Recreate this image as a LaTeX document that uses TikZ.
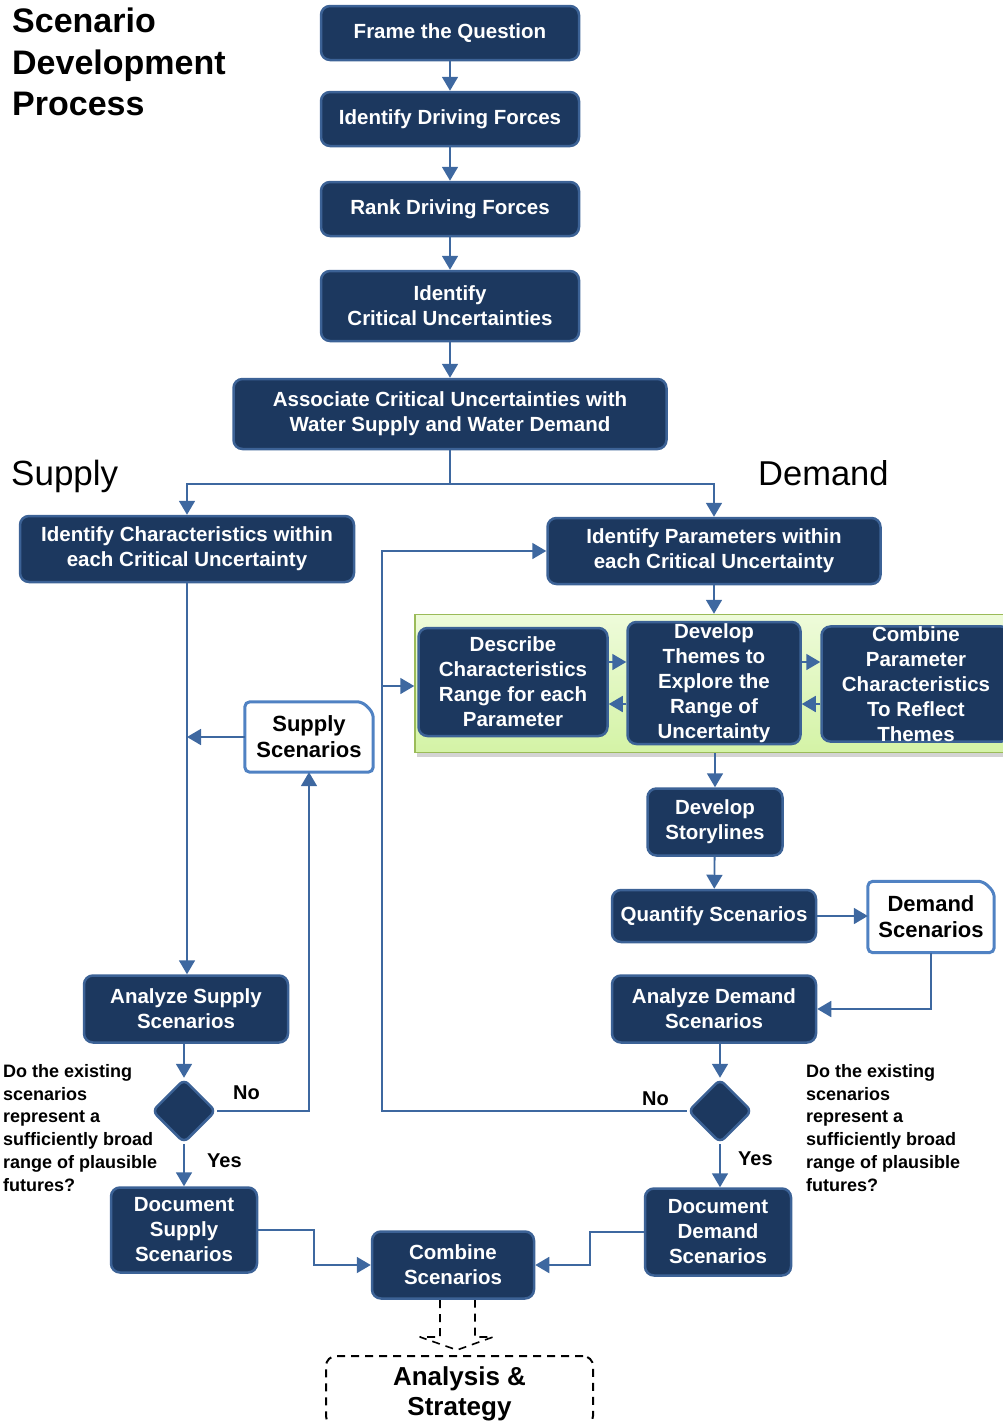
\documentclass[tikz,border=0pt]{standalone}
\usepackage{fontspec}
\setmainfont{Liberation Sans}
\usetikzlibrary{arrows.meta,shapes.geometric,shadows,calc}
\definecolor{navy}{RGB}{28,56,95}
\definecolor{bborder}{RGB}{60,98,150}
\definecolor{lineblue}{RGB}{62,104,160}
\definecolor{snipblue}{RGB}{80,130,195}
\definecolor{gtop}{RGB}{238,251,218}
\definecolor{gbot}{RGB}{212,243,166}
\definecolor{gborder}{RGB}{155,187,89}
\tikzset{
 box/.style={draw=bborder, fill=navy, line width=2.5pt, rounded corners=9pt, text=white,
   font=\bfseries\fontsize{20.5}{25}\selectfont, align=center, inner sep=0pt},
 dia/.style={diamond, shape aspect=1, minimum size=64pt, draw=bborder, fill=navy, line width=2.5pt, rounded corners=6pt, inner sep=0pt},
 arr/.style={draw=lineblue, line width=1.8pt, -{Triangle[length=14pt,width=16pt]}},
 ln/.style={draw=lineblue, line width=1.8pt},
 sniptext/.style={font=\bfseries\fontsize{22}{26}\selectfont, align=center, inner sep=0pt, fill=white},
 snipline/.style={draw=snipblue, line width=3pt, rounded corners=5pt},
 plain/.style={inner sep=0pt},
 qtext/.style={anchor=north west, inner sep=0pt, align=left, font=\bfseries\fontsize{18}{22.8}\selectfont},
 yn/.style={anchor=base west, inner sep=0pt, font=\bfseries\fontsize{20}{24}\selectfont},
 dsh/.style={draw=black, line width=2pt, dash pattern=on 8pt off 6pt},
}
\begin{document}
\begin{tikzpicture}[x=1pt,y=-1pt]
\clip (0,0) rectangle (1003,1422);
\useasboundingbox (0,0) rectangle (1003,1422);

% title and side labels
\node[anchor=north west, inner sep=0pt, align=left, font=\bfseries\fontsize{34}{41.5}\selectfont] (title) at (12,8) {Scenario\\Development\\Process};
\node[anchor=base west, plain, font=\fontsize{35}{40}\selectfont] (suplab) at (11,485) {Supply};
\node[anchor=base west, plain, font=\fontsize{34.5}{40}\selectfont] (demlab) at (758,485) {Demand};

% main chain
\node[box, minimum width=258pt, minimum height=54pt] (frame) at (450,33) {Frame the Question};
\node[box, minimum width=258pt, minimum height=54pt] (drive) at (450,119) {Identify Driving Forces};
\node[box, minimum width=258pt, minimum height=54pt] (rank) at (450,209) {Rank Driving Forces};
\node[box, minimum width=258pt, minimum height=70pt] (crit) at (450,306) {Identify\\Critical Uncertainties};
\node[box, minimum width=433pt, minimum height=70pt] (assoc) at (450,414) {Associate Critical Uncertainties with\\Water Supply and Water Demand};

\node[box, minimum width=334pt, minimum height=66pt] (charac) at (187,549) {Identify Characteristics within\\each Critical Uncertainty};
\node[box, minimum width=333pt, minimum height=66pt] (param) at (714,551) {Identify Parameters within\\each Critical Uncertainty};

% green panel
\node[draw=gborder, line width=1.5pt, top color=gtop, bottom color=gbot, minimum width=595pt, minimum height=138pt, inner sep=0pt,
      drop shadow={shadow xshift=2pt, shadow yshift=-4pt, opacity=0.35}] (panel) at (712.5,683.5) {};
\node[box, minimum width=189pt, minimum height=108pt] (desc) at (513,682) {Describe\\Characteristics\\Range for each\\Parameter};
\node[box, minimum width=173pt, minimum height=122pt] (dev) at (714,683) {Develop\\Themes to\\Explore the\\Range of\\Uncertainty};
\node[box, minimum width=189pt, minimum height=111pt] (comb) at (916,684) {Combine\\Parameter\\Characteristics\\To Reflect\\Themes};

\node[box, minimum width=135pt, minimum height=67pt] (story) at (715,822) {Develop\\Storylines};
\node[box, minimum width=204pt, minimum height=52pt] (quant) at (714,916) {Quantify Scenarios};
\node[sniptext, minimum width=126pt, minimum height=71pt] (dscen) at (931,917) {Demand\\Scenarios};
\draw[snipline] (dscen.south west) -- (dscen.north west) -- ([xshift=-11pt]dscen.north east) -- ([yshift=-11pt]dscen.north east) -- (dscen.south east) -- cycle;
\node[box, minimum width=204pt, minimum height=67pt] (anadem) at (714,1009) {Analyze Demand\\Scenarios};
\node[dia] (ddia) at (720,1111) {};
\node[box, minimum width=146pt, minimum height=87pt] (docdem) at (718,1232) {Document\\Demand\\Scenarios};

% supply side
\node[sniptext, minimum width=128pt, minimum height=70pt] (sscen) at (309,737) {Supply\\Scenarios};
\draw[snipline] (sscen.south west) -- (sscen.north west) -- ([xshift=-11pt]sscen.north east) -- ([yshift=-11pt]sscen.north east) -- (sscen.south east) -- cycle;
\node[box, minimum width=204pt, minimum height=67pt] (anasup) at (186,1009) {Analyze Supply\\Scenarios};
\node[dia] (sdia) at (184,1111) {};
\node[box, minimum width=146pt, minimum height=85pt] (docsup) at (184,1230) {Document\\Supply\\Scenarios};

\node[box, minimum width=162pt, minimum height=67pt] (combine) at (453,1265) {Combine\\Scenarios};

% analysis
\node[dsh, rounded corners=10pt, minimum width=267pt, minimum height=70pt, inner sep=0pt, align=center,
      font=\bfseries\fontsize{26}{30}\selectfont] (ana) at (459.5,1391) {};
\node[inner sep=0pt, align=center, font=\bfseries\fontsize{26}{30}\selectfont] (anatext) at (459.5,1394) {Analysis \&\\Strategy};

% question texts
\node[qtext] (qsup) at (3,1064) {Do the existing\\scenarios\\represent a\\sufficiently broad\\range of plausible\\futures?};
\node[qtext] (qdem) at (806,1064) {Do the existing\\scenarios\\represent a\\sufficiently broad\\range of plausible\\futures?};
\node[yn] (nosup) at (233,1099) {No};
\node[yn] (yessup) at (207,1167) {Yes};
\node[yn] (nodem) at (642,1105) {No};
\node[yn] (yesdem) at (738,1165) {Yes};

% connectors: main chain
\draw[arr] (frame) -- (drive);
\draw[arr] (drive) -- (rank);
\draw[arr] (rank) -- (crit);
\draw[arr] (crit) -- (assoc);
\coordinate (j) at (450,484);
\draw[ln] (assoc.south) -- (j);
\draw[arr] (j) -| (charac.north);
\draw[arr] (j) -| (param.north);

% demand side
\draw[arr] (param.south) -- (param.south |- panel.north);
\draw[arr] (desc.east |- 0,662) -- (dev.west |- 0,662);
\draw[arr] (dev.west |- 0,704) -- (desc.east |- 0,704);
\draw[arr] (dev.east |- 0,662) -- (comb.west |- 0,662);
\draw[arr] (comb.west |- 0,704) -- (dev.east |- 0,704);
\draw[arr] (story.north |- panel.south) -- (story.north);
\draw[arr] (story) -- (quant);
\draw[arr] (quant.east) -- (quant.east -| dscen.west);
\draw[arr] (dscen.south) |- (anadem.east);
\draw[arr] (anadem.south -| ddia.north) -- (ddia.north);
\draw[arr] (ddia.south) -- (ddia.south |- docdem.north);
\coordinate (loopc) at (382,1111);
\draw[arr] (ddia.west) -- (loopc) |- (param.west);
\draw[arr] (loopc |- 0,686) -- (panel.west |- 0,686);
\draw[arr] (docdem.west) -- ++(-54,0) |- (combine.east);

% supply side
\draw[arr] (charac.south) -- (charac.south |- anasup.north);
\draw[arr] (sscen.west) -- (charac.south |- sscen.west);
\draw[arr] (anasup.south -| sdia.north) -- (sdia.north);
\draw[arr] (sdia.east) -| (sscen.south);
\draw[arr] (sdia.south) -- (docsup.north);
\draw[arr] (docsup.east) -- ++(56,0) |- (combine.west);

% dashed block arrow
\coordinate (ba) at (457,1300);
\draw[dsh, line width=1.6pt, line join=round] ($(ba)+(-17,0)$) -- ($(ba)+(-17,37)$) -- ($(ba)+(-37,37)$) -- ($(ba)+(0,50)$) -- ($(ba)+(36,37)$) -- ($(ba)+(18,37)$) -- ($(ba)+(18,0)$);
\end{tikzpicture}
\end{document}
